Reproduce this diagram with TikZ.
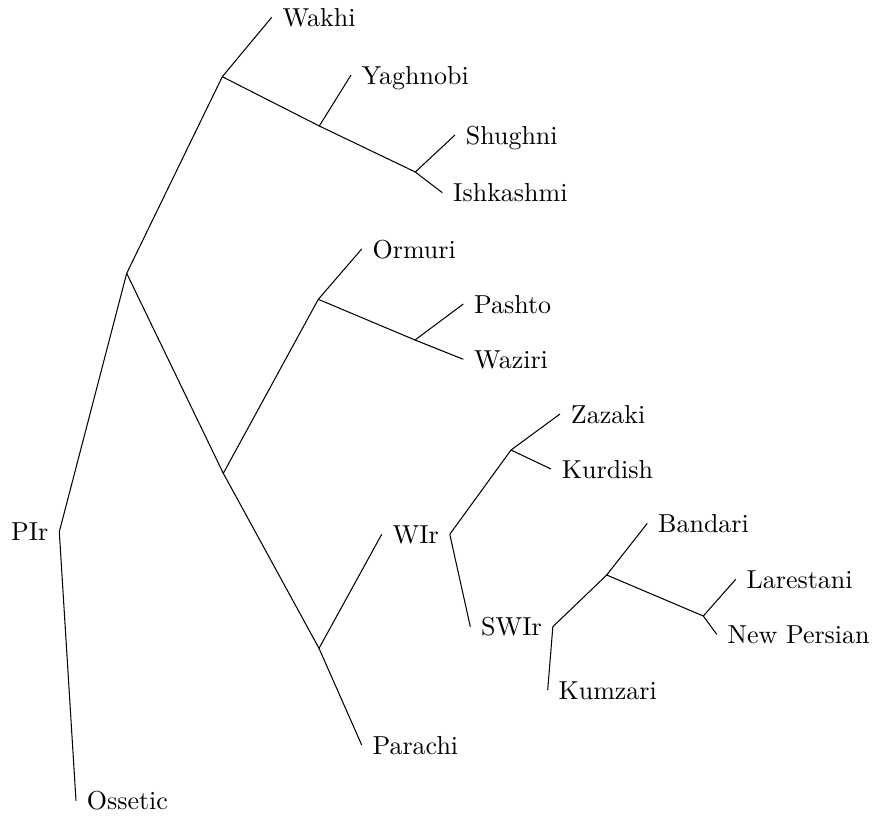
\documentclass[tikz,border=0pt]{standalone}
\begin{document}
\begin{tikzpicture}[x=0.385pt,y=-0.385pt,
  lbl/.style={inner xsep=4.2pt,inner ysep=0pt,text height=7pt,text depth=0pt,outer sep=0pt},
  br/.style={line width=0.4pt}]
\useasboundingbox (0,0) rectangle (873,815);
% junctions
\coordinate (A) at (126.7,273.3);
\coordinate (B) at (222.3,76.7);
\coordinate (C) at (319.3,126);
\coordinate (D) at (415.3,172);
\coordinate (E) at (223.3,473.3);
\coordinate (F) at (318.3,299.3);
\coordinate (G) at (415,340);
\coordinate (H) at (319,648.3);
\coordinate (I) at (511,450);
\coordinate (J) at (606.7,575);
\coordinate (K) at (703.3,616);
% labels
\node[lbl,anchor=east] (pir) at (59.3,531.7) {PIr};
\node[lbl,anchor=west] (ossetic) at (76,800.7) {Ossetic};
\node[lbl,anchor=west] (wakhi) at (271.7,17.3) {Wakhi};
\node[lbl,anchor=west] (yaghnobi) at (351,75) {Yaghnobi};
\node[lbl,anchor=west] (shughni) at (455,135) {Shughni};
\node[lbl,anchor=west] (ishkashmi) at (442.3,192.7) {Ishkashmi};
\node[lbl,anchor=west] (ormuri) at (361.7,249) {Ormuri};
\node[lbl,anchor=west] (pashto) at (463.3,304) {Pashto};
\node[lbl,anchor=west] (waziri) at (463.3,359.3) {Waziri};
\node[lbl,anchor=west] (wir) at (381.7,534.3) {WIr};
\node[lbl,anchor=west] (parachi) at (361.7,745) {Parachi};
\node[lbl,anchor=west] (zazaki) at (560,414) {Zazaki};
\node[lbl,anchor=west] (kurdish) at (551,469) {Kurdish};
\node[lbl,anchor=west] (swir) at (470.3,626.7) {SWIr};
\node[lbl,anchor=west] (kumzari) at (547.7,690) {Kumzari};
\node[lbl,anchor=west] (bandari) at (647.3,523.3) {Bandari};
\node[lbl,anchor=west] (larestani) at (735.7,579.3) {Larestani};
\node[lbl,anchor=west] (newpersian) at (716.7,634.3) {New Persian};
% branches
\draw[br] (ossetic.west) -- (pir.east) -- (A);
\draw[br] (A) -- (B) -- (wakhi.west);
\draw[br] (B) -- (C) -- (yaghnobi.west);
\draw[br] (C) -- (D) -- (shughni.west);
\draw[br] (D) -- (ishkashmi.west);
\draw[br] (A) -- (E) -- (F) -- (ormuri.west);
\draw[br] (F) -- (G) -- (pashto.west);
\draw[br] (G) -- (waziri.west);
\draw[br] (E) -- (H) -- (wir.west);
\draw[br] (H) -- (parachi.west);
\draw[br] (wir.east) -- (I) -- (zazaki.west);
\draw[br] (I) -- (kurdish.west);
\draw[br] (wir.east) -- (swir.west);
\draw[br] (swir.east) -- (kumzari.west);
\draw[br] (swir.east) -- (J) -- (bandari.west);
\draw[br] (J) -- (K) -- (larestani.west);
\draw[br] (K) -- (newpersian.west);
\end{tikzpicture}
\end{document}
